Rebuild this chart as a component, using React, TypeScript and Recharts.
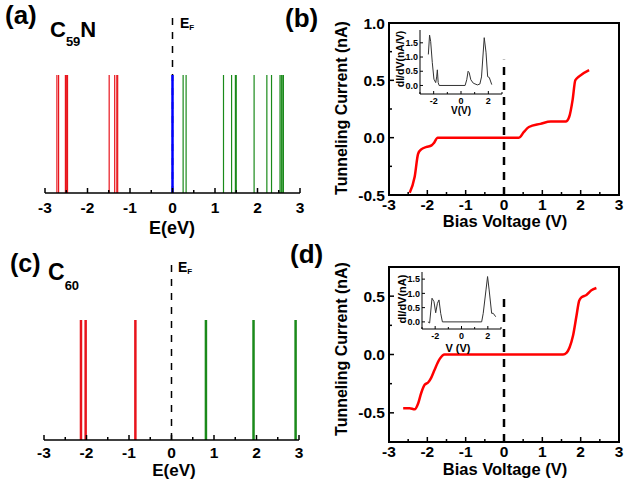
import React from 'react';
import { ComposedChart, LineChart, Line, XAxis, YAxis, ReferenceLine, ReferenceArea } from 'recharts';

const FONT = '"Liberation Sans", Arial, Helvetica, sans-serif';
const RED = '#ff0000';
const LEVEL_RED = '#e8141c';
const GREEN = '#1a8a1a';
const BLUE = '#0000ff';

// (a) C59N molecular levels, eV
const c59nOccupied = [-2.72, -2.68, -2.52, -2.49, -2.47, -1.49, -1.36, -1.31, -1.29];
const c59nSomo = [0.0];
const c59nEmpty = [0.25, 0.32, 1.2, 1.39, 1.48, 1.5, 1.92, 2.22, 2.33, 2.53, 2.56, 2.58, 2.61];

// (c) C60 molecular levels, eV
const c60Occupied = [-2.13, -2.02, -0.85];
const c60Empty = [0.81, 1.93, 2.92];

// ticks
const energyTicks = [-3, -2.5, -2, -1.5, -1, -0.5, 0, 0.5, 1, 1.5, 2, 2.5, 3];
const currentTicksB = [-0.5, -0.25, 0, 0.25, 0.5, 0.75, 1];
const currentTicksD = [-0.75, -0.5, -0.25, 0, 0.25, 0.5, 0.75];
const insetVTicks = [-3, -2, -1, 0, 1, 2, 3];
const insetGTicks = [0, 0.5, 1, 1.5];

// (b) I-V, C59N
const biasB = [-2.46, -2.33, -2.24, -2.15, -2.02, -1.89, -1.83, -1.73, -1.0, 0, 0.39, 0.52, 0.65, 0.95, 1.22, 1.61, 1.7, 1.79, 1.86, 1.96, 2.22];
const currentB = [-0.48, -0.34, -0.14, -0.1, -0.081, -0.067, -0.047, 0, 0, 0, 0, 0.05, 0.093, 0.12, 0.14, 0.14, 0.18, 0.33, 0.5, 0.535, 0.59];

// (b) inset dI/dV
const dBiasB = [-2.39, -2.3, -2.22, -2.1, -1.98, -1.85, -1.78, -1.73, -1.67, -1.6, 0.3, 0.42, 0.52, 0.6, 0.72, 0.9, 1.2, 1.38, 1.5, 1.7, 1.83, 1.95, 2.07, 2.25];
const dCondB = [1.09, 1.77, 1.55, 0.8, 0.22, 0.1, 0.3, 0.55, 0.1, 0, 0, 0.2, 0.5, 0.45, 0.2, 0.08, 0.02, 0.05, 0.3, 1.68, 1.17, 0.31, 0.28, 0.03];

// (d) I-V, C60
const biasD = [-2.63, -2.46, -2.33, -2.24, -2.16, -2.07, -1.98, -1.9, -1.81, -1.68, -1.55, 0, 1.54, 1.63, 1.71, 1.8, 1.89, 1.96, 2.02, 2.15, 2.28, 2.41];
const currentD = [-0.46, -0.46, -0.47, -0.42, -0.33, -0.26, -0.24, -0.2, -0.13, -0.04, 0, 0, 0, 0.014, 0.06, 0.16, 0.33, 0.46, 0.49, 0.51, 0.55, 0.57];

// (d) inset dI/dV
const dBiasD = [-2.55, -2.42, -2.24, -2.09, -1.96, -1.83, -1.71, -1.58, -1.45, 1.53, 1.65, 1.86, 1.98, 2.1, 2.29, 2.41, 2.6];
const dCondD = [0, -0.04, 0.83, 0.71, 0.32, 0.65, 0.77, 0.3, 0, 0, 0.3, 1.12, 1.59, 1.12, 0.3, 0.3, 0.18];

const zip = (xs: number[], ys: number[]) => xs.map((v, i) => ({ v, y: ys[i] }));

const isInt = (v: number) => Math.abs(v - Math.round(v)) < 1e-6;
const isHalf = (v: number) => Math.abs(v * 2 - Math.round(v * 2)) < 1e-6;

type TickOpts = {
  fontSize: number;
  gap: number;
  major: (v: number) => boolean;
  fmt?: (v: number) => string;
  len?: number;
  minorLen?: number;
  width?: number;
};

function bottomTick({ fontSize, gap, major, fmt = (v) => String(v), len = 5, minorLen = 3, width = 1.5 }: TickOpts) {
  return (p: any) => {
    const v = p.payload.value;
    const m = major(v);
    return (
      <g>
        <line x1={p.x} x2={p.x} y1={p.y} y2={p.y - (m ? len : minorLen)} stroke="#000" strokeWidth={width} />
        {m ? (
          <text x={p.x} y={p.y + gap} textAnchor="middle" fontSize={fontSize} fontWeight="bold" fontFamily={FONT} fill="#000">
            {fmt(v)}
          </text>
        ) : null}
      </g>
    );
  };
}

function leftTick({ fontSize, gap, major, fmt = (v) => String(v), len = 5, minorLen = 3, width = 1.5 }: TickOpts) {
  return (p: any) => {
    const v = p.payload.value;
    const m = major(v);
    return (
      <g>
        <line x1={p.x} x2={p.x + (m ? len : minorLen)} y1={p.y} y2={p.y} stroke="#000" strokeWidth={width} />
        {m ? (
          <text x={p.x - gap} y={p.y} dy="0.36em" textAnchor="end" fontSize={fontSize} fontWeight="bold" fontFamily={FONT} fill="#000">
            {fmt(v)}
          </text>
        ) : null}
      </g>
    );
  };
}

const axisLine = { stroke: '#000', strokeWidth: 1.5 };

function LevelPanel({ occupied, mid, empty, width, height, margin, lineWidth, tickGap }: any) {
  return (
    <ComposedChart width={width} height={height} margin={margin} data={[]}>
      <XAxis
        type="number"
        dataKey="v"
        domain={[-3, 3]}
        ticks={energyTicks}
        interval={0}
        tickSize={0}
        tickMargin={0}
        tickLine={false}
        tick={bottomTick({ fontSize: 15.5, gap: tickGap, major: isInt })}
        axisLine={axisLine}
        height={30}
        allowDataOverflow
      />
      <YAxis type="number" domain={[0, 1.5]} hide width={0} allowDataOverflow />
      <ReferenceLine segment={[{ x: 0, y: 0 }, { x: 0, y: 1.5 }]} stroke="#000" strokeDasharray="7 7" strokeWidth={1.5} />
      {occupied.map((e: number) => (
        <ReferenceLine key={'o' + e} segment={[{ x: e, y: 0 }, { x: e, y: 1 }]} stroke={LEVEL_RED} strokeWidth={lineWidth} />
      ))}
      {mid.map((e: number) => (
        <ReferenceLine key={'m' + e} segment={[{ x: e, y: 0 }, { x: e, y: 1 }]} stroke={BLUE} strokeWidth={2.5} />
      ))}
      {empty.map((e: number) => (
        <ReferenceLine key={'e' + e} segment={[{ x: e, y: 0 }, { x: e, y: 1 }]} stroke={GREEN} strokeWidth={lineWidth} />
      ))}
    </ComposedChart>
  );
}

function IVPanel({ data, yDomain, yTicks, width, height, margin, dashTop }: any) {
  return (
    <LineChart width={width} height={height} margin={margin} data={data}>
      <XAxis
        type="number"
        dataKey="v"
        domain={[-3, 3]}
        ticks={energyTicks}
        interval={0}
        tickSize={0}
        tickMargin={0}
        tickLine={false}
        tick={bottomTick({ fontSize: 15.5, gap: 15, major: isInt })}
        axisLine={axisLine}
        height={30}
        allowDataOverflow
      />
      <YAxis
        type="number"
        domain={yDomain}
        ticks={yTicks}
        interval={0}
        tickSize={0}
        tickMargin={0}
        tickLine={false}
        tick={leftTick({ fontSize: 15.5, gap: 4, major: (v) => isHalf(v), fmt: (v) => v.toFixed(1) })}
        axisLine={axisLine}
        width={40}
        allowDataOverflow
      />
      <ReferenceArea x1={-3} x2={3} y1={yDomain[0]} y2={yDomain[1]} fill="none" fillOpacity={0} stroke="#000" strokeWidth={2} ifOverflow="visible" />
      <ReferenceLine segment={[{ x: 0, y: yDomain[0] }, { x: 0, y: dashTop }]} stroke="#000" strokeDasharray="8 7" strokeWidth={2.5} />
      <Line type="monotone" dataKey="y" stroke={RED} strokeWidth={2.5} dot={false} isAnimationActive={false} />
    </LineChart>
  );
}

function InsetPanel({ data, yDomain, width, height, margin }: any) {
  return (
    <LineChart width={width} height={height} margin={margin} data={data}>
      <XAxis
        type="number"
        dataKey="v"
        domain={[-3, 3]}
        ticks={insetVTicks}
        interval={0}
        tickSize={0}
        tickMargin={0}
        tickLine={false}
        tick={bottomTick({ fontSize: 9, gap: 10, major: (v) => isInt(v / 2), len: 3, minorLen: 2, width: 1 })}
        axisLine={{ stroke: '#000', strokeWidth: 1 }}
        height={15}
        allowDataOverflow
      />
      <YAxis
        type="number"
        domain={yDomain}
        ticks={insetGTicks}
        interval={0}
        tickSize={0}
        tickMargin={0}
        tickLine={false}
        tick={leftTick({ fontSize: 9, gap: 2, major: () => true, fmt: (v) => v.toFixed(1), len: 3, width: 1 })}
        axisLine={{ stroke: '#000', strokeWidth: 1 }}
        width={30}
        allowDataOverflow
      />
      <Line type="linear" dataKey="y" stroke="#333" strokeWidth={1} dot={false} isAnimationActive={false} />
    </LineChart>
  );
}

const bold = { fontFamily: FONT, fontWeight: 'bold' as const, fill: '#000' };

export default function App() {
  return (
    <div style={{ position: 'absolute', left: 0, top: 0, width: 624, height: 491, background: '#fff', overflow: 'hidden' }}>
      <div style={{ position: 'absolute', left: 0, top: 0 }}>
        <LevelPanel occupied={c59nOccupied} mid={c59nSomo} empty={c59nEmpty} width={310} height={240} margin={{ top: 16, right: 10, bottom: 17, left: 45 }} lineWidth={1.2} tickGap={20} />
      </div>
      <div style={{ position: 'absolute', left: 0, top: 240 }}>
        <LevelPanel occupied={c60Occupied} mid={[]} empty={c60Empty} width={310} height={251} margin={{ top: 20, right: 11, bottom: 21, left: 44 }} lineWidth={2.5} tickGap={18} />
      </div>
      <div style={{ position: 'absolute', left: 310, top: 0 }}>
        <IVPanel data={zip(biasB, currentB)} yDomain={[-0.5, 1]} yTicks={currentTicksB} width={314} height={240} margin={{ top: 23, right: 5, bottom: 15, left: 39 }} dashTop={0.68} />
      </div>
      <div style={{ position: 'absolute', left: 310, top: 240 }}>
        <IVPanel data={zip(biasD, currentD)} yDomain={[-0.75, 0.75]} yTicks={currentTicksD} width={314} height={251} margin={{ top: 27, right: 5, bottom: 19, left: 39 }} dashTop={0.48} />
      </div>
      <div style={{ position: 'absolute', left: 380, top: 15 }}>
        <InsetPanel data={zip(dBiasB, dCondB)} yDomain={[-0.3, 1.95]} width={130} height={100} margin={{ top: 15, right: 8, bottom: 6, left: 10 }} />
      </div>
      <div style={{ position: 'absolute', left: 380, top: 260 }}>
        <InsetPanel data={zip(dBiasD, dCondD)} yDomain={[-0.25, 1.75]} width={130} height={95} margin={{ top: 12, right: 9, bottom: 11, left: 12 }} />
      </div>
      <svg width={624} height={491} style={{ position: 'absolute', left: 0, top: 0, pointerEvents: 'none' }}>
        {/* panel letters */}
        <text x={5} y={24} fontSize={26} {...bold}>(a)</text>
        <text x={285} y={27} fontSize={26} {...bold}>(b)</text>
        <text x={10} y={272} fontSize={25} {...bold}>(c)</text>
        <text x={290} y={263} fontSize={26} {...bold}>(d)</text>
        {/* molecules */}
        <text x={50} y={37} fontSize={22} {...bold}>
          C<tspan fontSize={13} dy={9}>59</tspan><tspan fontSize={22} dy={-9}>N</tspan>
        </text>
        <text x={48} y={280} fontSize={23} {...bold}>
          C<tspan fontSize={13} dy={10}>60</tspan>
        </text>
        {/* Fermi level labels */}
        <text x={180} y={28} fontSize={14} {...bold}>
          E<tspan fontSize={8} dy={2}>F</tspan>
        </text>
        <text x={178} y={272} fontSize={14} {...bold}>
          E<tspan fontSize={8} dy={2}>F</tspan>
        </text>
        {/* axis titles */}
        <text x={172} y={234} fontSize={18} textAnchor="middle" {...bold}>E(eV)</text>
        <text x={174} y={476} fontSize={17} textAnchor="middle" {...bold}>E(eV)</text>
        <text x={505} y={227} fontSize={16.5} textAnchor="middle" {...bold}>Bias Voltage (V)</text>
        <text x={505} y={475} fontSize={16.5} textAnchor="middle" {...bold}>Bias Voltage (V)</text>
        <text transform="translate(347,108) rotate(-90)" fontSize={16} textAnchor="middle" {...bold}>Tunneling Current (nA)</text>
        <text transform="translate(347,349) rotate(-90)" fontSize={16} textAnchor="middle" {...bold}>Tunneling Current (nA)</text>
        {/* inset titles */}
        <text transform="translate(404,59) rotate(-90)" fontSize={10.5} textAnchor="middle" {...bold}>dI/dV(nA/V)</text>
        <text x={461} y={114} fontSize={10} textAnchor="middle" {...bold}>V(V)</text>
        <text transform="translate(406,299) rotate(-90)" fontSize={11} textAnchor="middle" {...bold}>dI/dV(nA)</text>
        <text x={458} y={352} fontSize={11} textAnchor="middle" {...bold}>V (V)</text>
      </svg>
    </div>
  );
}
